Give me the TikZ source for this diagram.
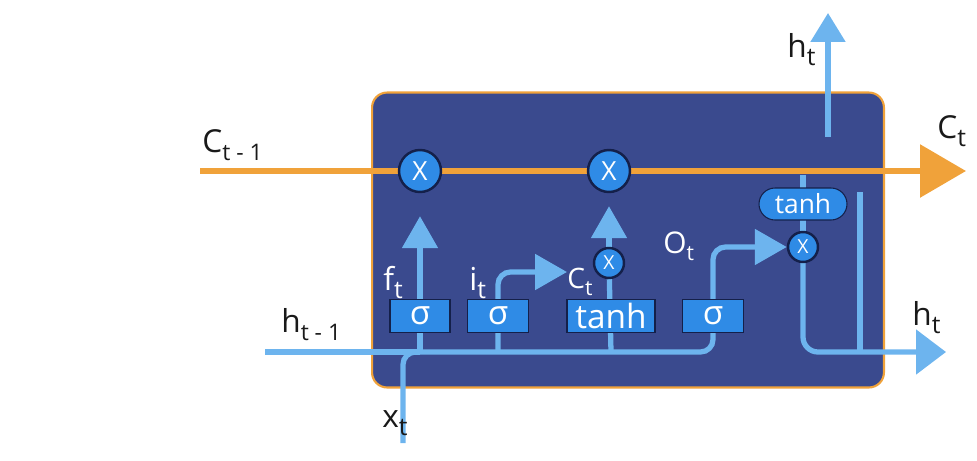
\documentclass[tikz,border=0pt]{standalone}
\usepackage{fontspec}
\setmainfont{Open Sans}
\usepackage{tikz}
\usetikzlibrary{arrows.meta,positioning,calc}
\definecolor{CellNavy}{HTML}{3A4A8E}
\definecolor{GateBlue}{HTML}{2F8BE6}
\definecolor{FlowBlue}{HTML}{6DB4EE}
\definecolor{StateOrange}{HTML}{F0A23A}
\definecolor{RimDark}{HTML}{14204A}
\newcommand{\sublab}[3]{#1\raisebox{-0.5ex}{\fontsize{#3}{#3}\selectfont #2}}
\pgfdeclarelayer{back}
\pgfdeclarelayer{wires}
\pgfsetlayers{back,wires,main}
\tikzset{
  gateB/.style={rectangle,fill=GateBlue,draw=RimDark,line width=0.6pt,
                minimum height=0.66cm,inner sep=0pt,text=white,
                font=\fontsize{19}{19}\selectfont},
  mulB/.style={circle,fill=GateBlue,draw=RimDark,line width=1.4pt,
               inner sep=0pt,text=white},
  flow/.style={FlowBlue,line width=3pt},
  state/.style={StateOrange,line width=3.4pt},
  arr/.style={-{Triangle[length=0.64cm,width=0.7cm]}},
  lab/.style={anchor=base west,inner sep=0pt,text=black!90,
              font=\fontsize{18}{18}\selectfont},
  labW/.style={lab,text=white}
}

\begin{document}
\begin{tikzpicture}[x=0.02cm,y=-0.02cm]
  \useasboundingbox (0,0) rectangle (977,460);

  % cell body
  \begin{pgfonlayer}{back}
    \node[rectangle,rounded corners=0.3cm,fill=CellNavy,draw=StateOrange,line width=1.2pt,
          minimum width=10.24cm,minimum height=5.9cm] (cell) at (628,240) {};
  \end{pgfonlayer}

  % free ends
  \coordinate (cin)  at (200,171);
  \coordinate (cout) at (966,171);
  \coordinate (hin)  at (265,352);
  \coordinate (hout) at (946,352);
  \coordinate (xin)  at (403,443);
  \coordinate (htopS) at (828,137);
  \coordinate (htop)  at (828,13);
  \coordinate (rail) at (860,192);
  \coordinate (itip) at (567,272);

  % gates
  \node[gateB,minimum width=1.2cm]  (gf) at (420,316) {σ};
  \node[gateB,minimum width=1.22cm] (gi) at (498,316) {σ};
  \node[gateB,minimum width=1.76cm] (gc) at (611,316) {tanh};
  \node[gateB,minimum width=1.22cm] (go) at (713,316) {σ};
  \node[gateB,rounded corners=0.32cm,minimum width=1.76cm,minimum height=0.64cm,
        font=\fontsize{15}{15}\selectfont] (th) at (803,204) {tanh};

  % pointwise products
  \node[mulB,minimum size=0.84cm,font=\fontsize{15}{15}\selectfont] (mf) at (420,171) {X};
  \node[mulB,minimum size=0.84cm,font=\fontsize{15}{15}\selectfont] (mi) at (609,171) {X};
  \node[mulB,minimum size=0.6cm,font=\fontsize{11}{11}\selectfont] (mc) at (609,263) {X};
  \node[mulB,minimum size=0.6cm,font=\fontsize{11}{11}\selectfont] (mo) at (803,247) {X};

  % labels
  \node[lab] (lc0) at (202,152) {\sublab{C}{t - 1}{13}};
  \node[lab] (lh0) at (281,332) {\sublab{h}{t - 1}{13}};
  \node[lab] (lx)  at (382,427) {\sublab{x}{t}{14}};
  \node[labW] (lf)  at (383,290) {\sublab{f}{t}{14}};
  \node[labW] (li)  at (469,290) {\sublab{i}{t}{14}};
  \node[labW,font=\fontsize{16}{16}\selectfont] (lct) at (567,288) {\sublab{C}{t}{12}};
  \node[labW,font=\fontsize{17}{17}\selectfont] (lo) at (663,253) {\sublab{O}{t}{12}};
  \node[lab] (lht) at (787,57)  {\sublab{h}{t}{14}};
  \node[lab] (lc1) at (937,138) {\sublab{C}{t}{14}};
  \node[lab] (lh1) at (912,325) {\sublab{h}{t}{14}};

  \begin{pgfonlayer}{wires}
    \draw[state,-{Triangle[length=0.92cm,width=1.04cm]}] (cin) -- (cout);
    \draw[flow] (hin) -- (gf |- hin);
    \draw[flow,rounded corners=0.25cm] (xin) |- (gf |- hin);
    \draw[flow,arr,rounded corners=0.25cm] (gf |- hin) -| (go |- mo) -- (mo);
    \draw[flow,arr,shorten >=0.46cm] (gf |- hin) -- (mf);
    \draw[flow,arr,rounded corners=0.25cm] (gi |- hin) |- (itip);
    \draw[flow] (gc |- hin) -- (mc);
    \draw[flow,arr,shorten >=0.26cm] (mc) -- (mi);
    \draw[flow] ([yshift=-0.08cm]th |- cin) -- (mo);
    \draw[flow,-{Triangle[length=0.6cm,width=0.88cm]},rounded corners=0.3cm] (mo) |- (hout);
    \draw[flow] (rail) -- (rail |- hout);
    \draw[flow,-{Triangle[length=0.58cm,width=0.68cm]}] (htopS) -- (htop);
  \end{pgfonlayer}
\end{tikzpicture}
\end{document}
